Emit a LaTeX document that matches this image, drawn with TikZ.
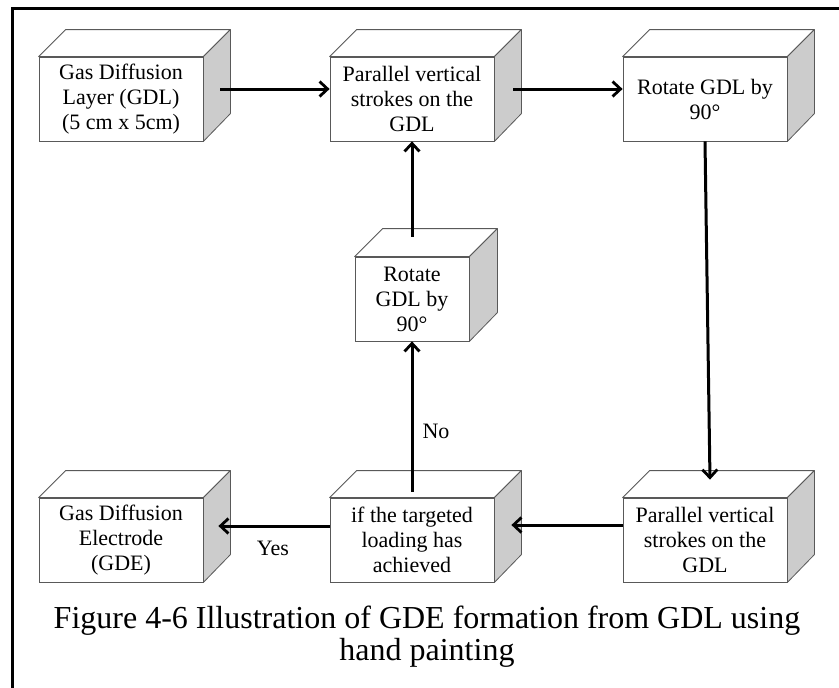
\documentclass[tikz,border=0pt]{standalone}
\usepackage{fontspec}
\setmainfont{Liberation Serif}
\usetikzlibrary{arrows.meta,calc}
\begin{document}
\begin{tikzpicture}[x=1pt,y=-1pt,
  face/.style={draw=black!65, line width=0.8pt, fill=white, minimum height=84pt, inner sep=0pt, align=center, font=\fontsize{22}{25}\selectfont},
  wide/.style={face, minimum width=164pt},
  narrow/.style={face, minimum width=114pt},
  topface/.style={draw=black!65, line width=0.8pt, fill=white, line join=round},
  sideface/.style={draw=black!65, line width=0.8pt, fill=gray!40, line join=round},
  arr/.style={line width=3pt, -{Straight Barb[length=8pt,width=15pt,line width=2.8pt]}},
  lbl/.style={font=\fontsize{22}{25}\selectfont, inner sep=0pt},
  framestyle/.style={line width=3pt}
]
\useasboundingbox (0,0) rectangle (839,688);
\draw[framestyle] (12,688) -- (12,8) -- (839,8);

\node[wide] (n1) at (121,99) {Gas Diffusion\\Layer (GDL)\\(5 cm x 5cm)};
\node[wide] (n2) at (412,99) {Parallel vertical\\strokes on the\\GDL};
\node[wide] (n3) at (705,99) {Rotate GDL by\\90°};
\node[narrow] (m) at (412,299) {Rotate\\GDL by\\90°};
\node[wide] (g) at (121,540) {Gas Diffusion\\Electrode\\(GDE)};
\node[wide] (d) at (412,540) {if the targeted\\loading has\\achieved};
\node[wide] (p) at (705,540) {Parallel vertical\\strokes on the\\GDL};

\foreach \n/\k in {n1/27,n2/27,n3/27,m/28,g/27,d/27,p/27}{
  \draw[topface] (\n.north west) -- ++(\k,-\k) -- ($(\n.north east)+(\k,-\k)$) -- (\n.north east) -- cycle;
  \draw[sideface] (\n.north east) -- ++(\k,-\k) -- ++(0,84) -- (\n.south east) -- cycle;
}

\draw[arr] ([xshift=17pt,yshift=10pt]n1.east) -- ([yshift=10pt]n2.west);
\draw[arr] ([xshift=19pt,yshift=10pt]n2.east) -- ([yshift=10pt]n3.west);
\draw[arr] (n3.south) -- ([xshift=5pt,yshift=18pt]p.north);
\draw[arr] ([yshift=15pt]p.west) -- ([xshift=17pt,yshift=15pt]d.east);
\draw[arr] ([yshift=14pt]d.west) -- ([xshift=15pt,yshift=14pt]g.east);
\draw[arr] ([yshift=6pt]d.north) -- (m.south);
\draw[arr] ([yshift=20pt]m.north) -- (n2.south);

\node[lbl] (no) at (436,431) {No};
\node[lbl] (yes) at (273,548) {Yes};

\node[font=\fontsize{32}{32}\selectfont, align=center, inner sep=0pt] (cap) at (427,637) {Figure 4-6 Illustration of GDE formation from GDL using\\hand painting};
\end{tikzpicture}
\end{document}
